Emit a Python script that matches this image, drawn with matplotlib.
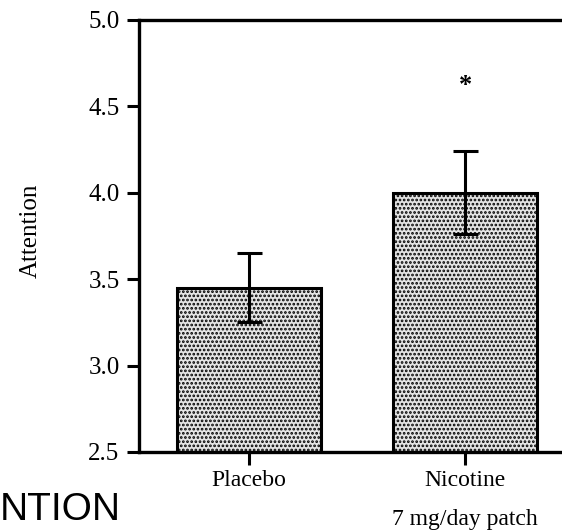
"""
Bar chart of attention score for placebo vs nicotine patch
"""

import matplotlib.pyplot as plt
import numpy as np

plt.rcParams['hatch.color'] = '#262626'
plt.rcParams['hatch.linewidth'] = 1.3

# Data
groups = ['Placebo', 'Nicotine\n7 mg/day patch']
attention = [3.45, 4.00]
sem = [0.20, 0.24]
star_y = 4.62

serif = 'Liberation Serif'


def plot_attention():
    fig = plt.figure(figsize=(5.62, 5.30), dpi=100)
    ax = fig.add_axes([139 / 562, 1 - 452 / 530, 423 / 562, 432 / 530])

    xpos = np.arange(len(groups))
    ax.bar(xpos, attention, width=0.67, color='#e4e4e4', edgecolor='black',
           linewidth=2.2, hatch='....', zorder=2)
    ax.errorbar(xpos, attention, yerr=sem, fmt='none', ecolor='black',
                elinewidth=2.2, capsize=9, capthick=2.2, zorder=3)
    ax.text(1, star_y, '*', ha='center', va='center', fontsize=19,
            family=serif, fontweight='bold')

    ax.set_xlim(-0.51, 1.449)
    ax.set_ylim(2.5, 5.0)
    ax.set_yticks([2.5, 3.0, 3.5, 4.0, 4.5, 5.0])
    ax.set_yticklabels(['2.5', '3.0', '3.5', '4.0', '4.5', '5.0'],
                       family=serif, fontsize=18)
    ax.set_xticks(xpos)
    ax.set_xticklabels(groups, family=serif, fontsize=17, linespacing=2.1,
                       va='top')
    ax.tick_params(axis='both', length=9, width=2.2, direction='out')
    ax.tick_params(axis='y', pad=5)
    ax.tick_params(axis='x', pad=4)

    ax.spines['right'].set_visible(False)
    for side in ['left', 'top', 'bottom']:
        ax.spines[side].set_linewidth(2.4)

    fig.text(31 / 562, 1 - 231 / 530, 'Attention', rotation=90,
             ha='center', va='center', family=serif, fontsize=18)
    fig.text(0.0, 1 - 520 / 530, 'NTION', ha='left', va='baseline',
             family='Liberation Sans', fontsize=28)

    fig.savefig('out.png', dpi=100)


if __name__ == '__main__':
    plot_attention()
